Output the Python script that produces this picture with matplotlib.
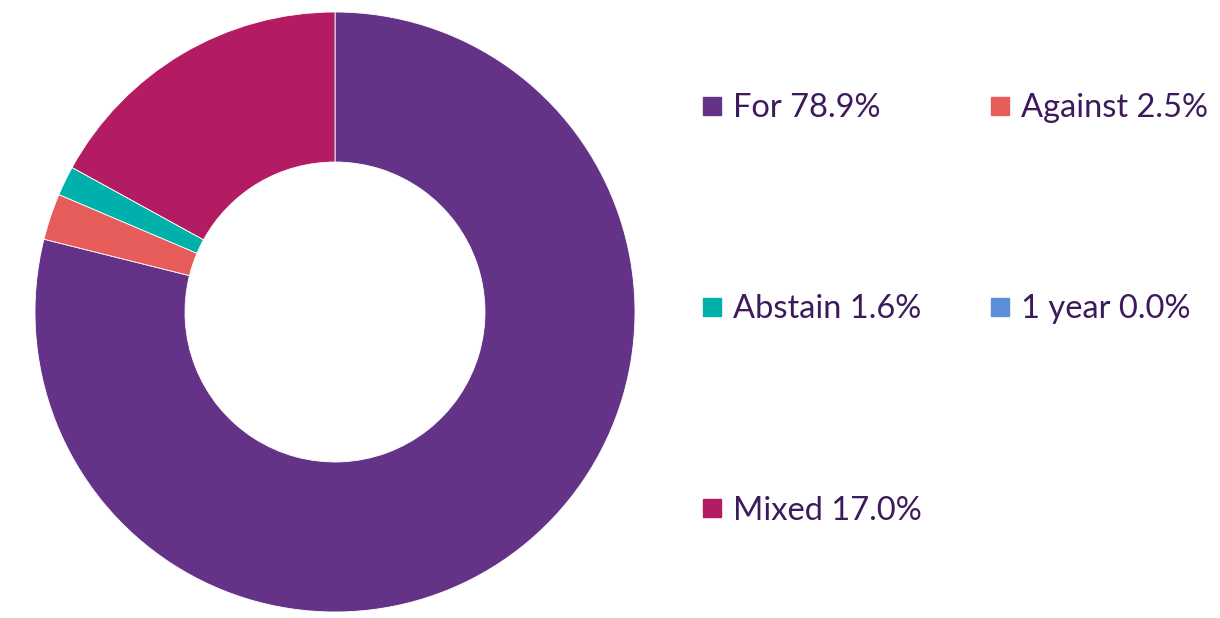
import matplotlib
matplotlib.use("Agg")
import matplotlib.pyplot as plt
from matplotlib.lines import Line2D

plt.rcParams['font.family'] = ['Lato', 'DejaVu Sans']

labels = ['For', 'Against', 'Abstain', '1 year', 'Mixed']
values = [78.9, 2.5, 1.6, 0.0, 17.0]
colors = ['#643387', '#E65C5A', '#00B0AA', '#5B8FD9', '#B31B62']
text_color = '#3D1A5C'

fig = plt.figure(figsize=(12.2, 6.18), dpi=100)
ax = fig.add_axes([35 / 1220, 6 / 618, 600 / 1220, 600 / 618])

ax.pie(values, colors=colors, startangle=90, counterclock=False, radius=1,
       wedgeprops=dict(width=0.5, edgecolor='white', linewidth=0.6))
ax.set_xlim(-1, 1)
ax.set_ylim(-1, 1)
ax.set_aspect('equal')
ax.axis('off')

# legend is filled column first, so reorder to get row-major layout
order = [0, 2, 4, 1, 3]
handles = [Line2D([], [], marker='s', linestyle='none', markersize=12.5,
                  markerfacecolor=colors[i], markeredgecolor=colors[i]) for i in order]
texts = ['%s %.1f%%' % (labels[i], values[i]) for i in order]

leg = fig.legend(handles, texts, ncol=2, frameon=False, fontsize=23.5,
                 loc='upper left', bbox_to_anchor=(702 / 1220, 1 - 93 / 618),
                 labelspacing=5.25, columnspacing=2.1, handlelength=0.6,
                 handletextpad=0.35, borderaxespad=0, borderpad=0)
for t in leg.get_texts():
    t.set_color(text_color)

fig.savefig('out.png', dpi=100)
